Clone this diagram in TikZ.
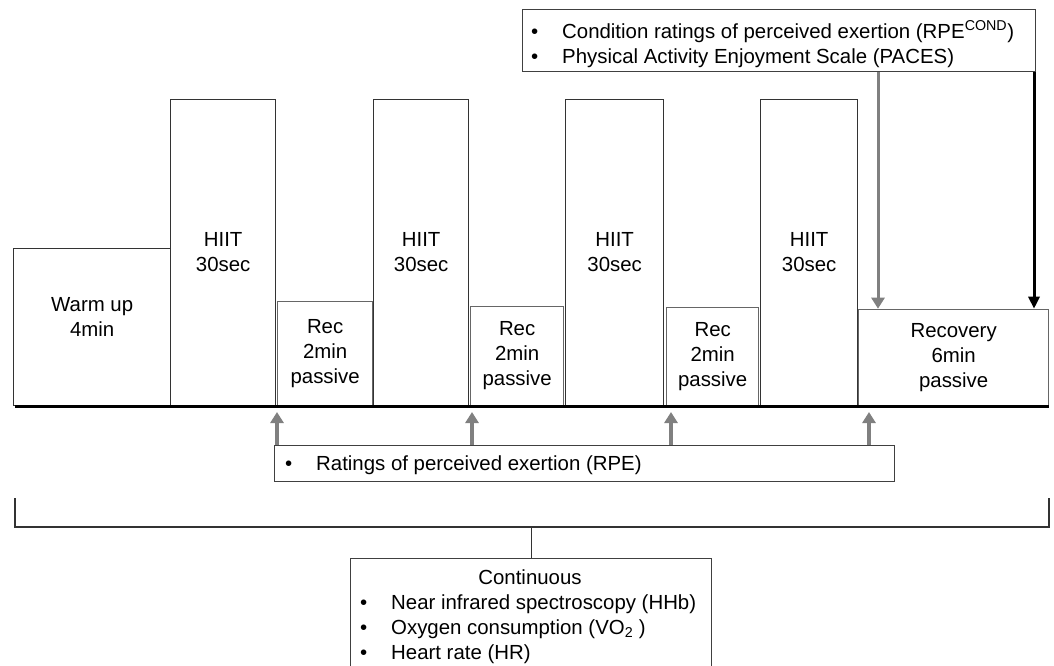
\documentclass[tikz,border=0pt]{standalone}
\usepackage{fontspec}
\setmainfont{Liberation Sans}
\usepackage{tikz}
\usetikzlibrary{positioning, arrows.meta}

\tikzset{
  stage/.style={draw=black!80, line width=1.3pt, fill=white, align=center, inner sep=0pt, anchor=south west},
  rest/.style={stage, draw=black!60},
  panel/.style={draw=black!75, line width=1.3pt, fill=white, inner sep=0pt, anchor=north west},
  entry/.style={anchor=base west, inner sep=0pt},
  cue/.style={draw=black!50, line width=4pt, -{Triangle[width=13pt, length=11pt]}},
  endcue/.style={draw=black, line width=3pt, -{Triangle[width=11pt, length=12pt]}}
}
\newcommand{\listline}[1]{\makebox[31pt][l]{\textbullet}#1}

\begin{document}
\begin{tikzpicture}[x=1pt, y=-1pt, font=\fontsize{20.4}{25}\selectfont]
    \useasboundingbox (0,0) rectangle (1054,665);
    \clip (0,0) rectangle (1054,665);

    % Define block parameters
    \def\baseY{406}
    \def\hiitH{306pt}

    % Draw the session blocks
    \node[stage, minimum width=157pt, minimum height=157pt] (warm) at (13,\baseY) {};
    \node[align=center, inner sep=0pt] (warmtext) at ([yshift=10pt]warm.center) {Warm up\\4min};
    \node[stage, minimum width=105pt, minimum height=\hiitH] (hiit1) at (170,\baseY) {HIIT\\30sec};
    \node[rest, minimum width=95pt, minimum height=104pt] (rec1) at (277,\baseY) {Rec\\2min\\passive};
    \node[stage, minimum width=95pt, minimum height=\hiitH] (hiit2) at (373,\baseY) {HIIT\\30sec};
    \node[rest, minimum width=93pt, minimum height=99pt] (rec2) at (470,\baseY) {Rec\\2min\\passive};
    \node[stage, minimum width=98pt, minimum height=\hiitH] (hiit3) at (565,\baseY) {HIIT\\30sec};
    \node[rest, minimum width=92pt, minimum height=98pt] (rec3) at (666,\baseY) {Rec\\2min\\passive};
    \node[stage, minimum width=97pt, minimum height=\hiitH] (hiit4) at (760,\baseY) {HIIT\\30sec};
    \node[rest, minimum width=190pt, minimum height=96pt] (recov) at (858,\baseY) {Recovery\\6min\\passive};

    % Add the time axis under the blocks
    \draw[line width=3pt] ([xshift=2pt]warm.south west) -- (recov.south east);

    % Add the RPE panel and its arrows
    \node[panel, minimum width=620pt, minimum height=36pt] (rpebox) at (274,445) {};
    \node[entry] (rpe) at (285,470) {\listline{Ratings of perceived exertion (RPE)}};
    \foreach \x [count=\i] in {277,472,671,869} {
        \coordinate (rpecue\i) at (\x,412);
        \draw[cue] (rpebox.north -| rpecue\i) -- (rpecue\i);
    }

    % Add the panel after the session
    \node[panel, minimum width=513pt, minimum height=62pt] (condbox) at (522,9) {};
    \node[entry] (cond) at (531,38) {\listline{Condition ratings of perceived exertion (RPE\textsuperscript{COND})}};
    \node[entry] (paces) at (531,63) {\listline{Physical Activity Enjoyment Scale (PACES)}};
    \coordinate (condcue) at (878,0);
    \coordinate (pacescue) at (1034,0);
    \draw[cue, line width=3pt] (condbox.south -| condcue) -- (recov.north -| condcue);
    \draw[endcue] (condbox.south -| pacescue) -- (recov.north -| pacescue);

    % Add the bracket for the continuous measures
    \coordinate (brace) at (532,527);
    \draw[line width=1.3pt, draw=black!80] (15,498) -- (15,527) -- (1049,527) -- (1049,498);
    \node[panel, minimum width=361pt, minimum height=130pt] (contbox) at (350,558) {};
    \draw[line width=1.3pt, draw=black!80] (contbox.north |- brace) -- (contbox.north);
    \node[anchor=base, inner sep=0pt] (conttitle) at (530,584) {Continuous};
    \node[entry] (hhb) at (360,609) {\listline{Near infrared spectroscopy (HHb)}};
    \node[entry] (vo2) at (360,634) {\listline{Oxygen consumption (VO\textsubscript{2}\ )}};
    \node[entry] (hr) at (360,659) {\listline{Heart rate (HR)}};

\end{tikzpicture}
\end{document}
